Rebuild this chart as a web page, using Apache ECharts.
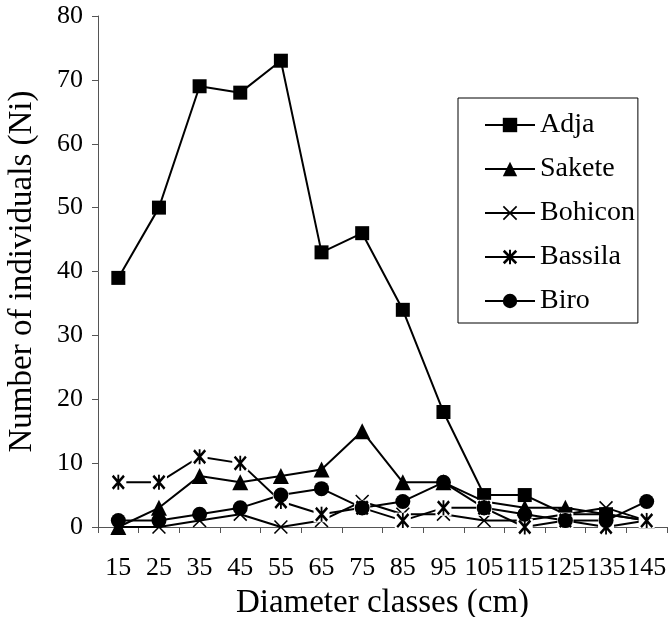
<!DOCTYPE html>
<html>
<head>
<meta charset="utf-8">
<script src="https://cdn.jsdelivr.net/npm/echarts@6/dist/echarts.min.js"></script>
<style>
  html, body { margin: 0; padding: 0; background: #fff; }
  #chart { width: 670px; height: 617px; }
</style>
</head>
<body>
<div id="chart"></div>
<script>
// Diameter class centres (cm)
const diameterClasses = ['15', '25', '35', '45', '55', '65', '75', '85', '95', '105', '115', '125', '135', '145'];

// Number of individuals per diameter class, by site
const adja    = [39, 50, 69, 68, 73, 43, 46, 34, 18, 5, 5, 2, 2, 1];
const sakete  = [0, 3, 8, 7, 8, 9, 15, 7, 7, 4, 3, 3, 2, 1];
const bohicon = [0, 0, 1, 2, 0, 1, 4, 2, 2, 1, 1, 2, 3, 1];
const bassila = [7, 7, 11, 10, 4, 2, 3, 1, 3, 3, 0, 1, 0, 1];
const biro    = [1, 1, 2, 3, 5, 6, 3, 4, 7, 3, 2, 1, 1, 4];

const FONT = "'Liberation Serif', 'Times New Roman', Times, serif";
const AXIS_GRAY = '#555';

// Marker shapes: thin cross and a bold asterisk
const CROSS = 'path://M0,1.6 L1.6,0 L20,18.4 L18.4,20 Z M18.4,0 L20,1.6 L1.6,20 L0,18.4 Z';
const STAR  = 'path://M0,2.6 L2.6,0 L20,17.4 L17.4,20 Z M17.4,0 L20,2.6 L2.6,20 L0,17.4 Z M8.6,0 L11.4,0 L11.4,20 L8.6,20 Z';

function lineSeries(name, data, symbol, size, extra) {
  return Object.assign({
    name: name,
    type: 'line',
    data: data,
    symbol: symbol,
    symbolSize: size,
    showAllSymbol: true,
    animation: false,
    itemStyle: { color: '#000' },
    lineStyle: { color: '#000', width: 2 }
  }, extra || {});
}

const chart = echarts.init(document.getElementById('chart'), null, { renderer: 'canvas' });

chart.setOption({
  backgroundColor: '#fff',
  animation: false,
  grid: { left: 98, right: 3, top: 16, bottom: 90, containLabel: false, outerBoundsMode: 'none' },
  legend: {
    data: ['Adja', 'Sakete', 'Bohicon', 'Bassila', 'Biro'],
    orient: 'vertical',
    left: 458,
    top: 98,
    padding: [13, 3, 8, 26],
    itemGap: 16,
    itemWidth: 50,
    itemHeight: 18,
    borderColor: '#000',
    borderWidth: 1,
    backgroundColor: '#fff',
    selectedMode: false,
    textStyle: { fontFamily: FONT, fontSize: 28, color: '#000', padding: [0, 0, 0, 0] }
  },
  xAxis: {
    type: 'category',
    data: diameterClasses,
    boundaryGap: true,
    name: 'Diameter classes (cm)',
    nameLocation: 'middle',
    nameGap: 60,
    nameTextStyle: { fontFamily: FONT, fontSize: 33, color: '#000' },
    axisLine: { lineStyle: { color: AXIS_GRAY, width: 1 } },
    axisTick: { show: true, length: 6, inside: false, alignWithLabel: false, lineStyle: { color: AXIS_GRAY } },
    axisLabel: { interval: 0, margin: 28, fontFamily: FONT, fontSize: 26, color: '#000' },
    splitLine: { show: false }
  },
  yAxis: {
    type: 'value',
    min: 0,
    max: 80,
    interval: 10,
    name: 'Number of individuals (Ni)',
    nameLocation: 'middle',
    nameRotate: 90,
    nameGap: 59,
    nameTextStyle: { fontFamily: FONT, fontSize: 33, color: '#000' },
    axisLine: { show: true, lineStyle: { color: AXIS_GRAY, width: 1 } },
    axisTick: { show: true, length: 6, inside: false, lineStyle: { color: AXIS_GRAY } },
    axisLabel: { margin: 15, fontFamily: FONT, fontSize: 26, color: '#000' },
    splitLine: { show: false }
  },
  series: [
    lineSeries('Adja', adja, 'rect', 14),
    lineSeries('Sakete', sakete, 'triangle', 16),
    lineSeries('Bohicon', bohicon, CROSS, 14),
    lineSeries('Bassila', bassila, STAR, [13, 15]),
    // white backing behind the Bassila markers, which breaks the line around each point
    lineSeries('Bassila backing', bassila, 'rect', 16, {
      itemStyle: { color: '#fff' },
      lineStyle: { width: 0, opacity: 0 },
      silent: true
    }),
    lineSeries('Bassila markers', bassila, STAR, [13, 15], {
      lineStyle: { width: 0, opacity: 0 },
      silent: true
    }),
    lineSeries('Biro', biro, 'circle', 15)
  ]
});
</script>
</body>
</html>
